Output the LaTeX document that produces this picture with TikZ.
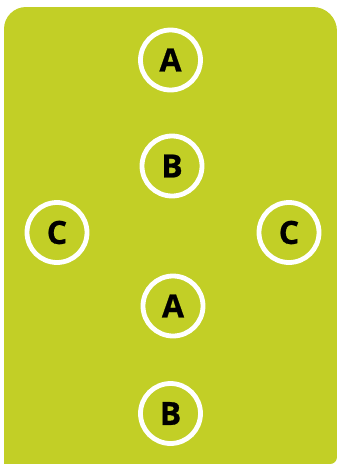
\documentclass[tikz,border=0pt]{standalone}
\usepackage{fontspec}
\setmainfont{Open Sans}
\newfontfamily\heavy{Open Sans}[BoldFeatures={FakeBold=0.7}]
\definecolor{lime}{RGB}{194,207,38}
\begin{document}
\begin{tikzpicture}[x=1pt,y=-1pt,
  ring/.style={circle,draw=white,line width=4.8pt,minimum size=60pt,inner sep=0pt,
    font=\heavy\fontsize{32}{32}\selectfont\bfseries,text=black}]
\useasboundingbox (0,0) rectangle (337,464);
\fill[lime] (4,464) -- (4,29) arc[start angle=180,end angle=270,radius=22] -- (313,7)
  arc[start angle=270,end angle=360,radius=24] -- (337,457)
  arc[start angle=0,end angle=90,radius=7] -- cycle;
\node[ring] (a1) at (170.5,60) {A};
\node[ring] (b1) at (172,166) {B};
\node[ring] (c1) at (57,232.5) {C};
\node[ring] (c2) at (289,232.5) {C};
\node[ring] (a2) at (173,306) {A};
\node[ring] (b2) at (170.5,413.5) {B};
\end{tikzpicture}
\end{document}
